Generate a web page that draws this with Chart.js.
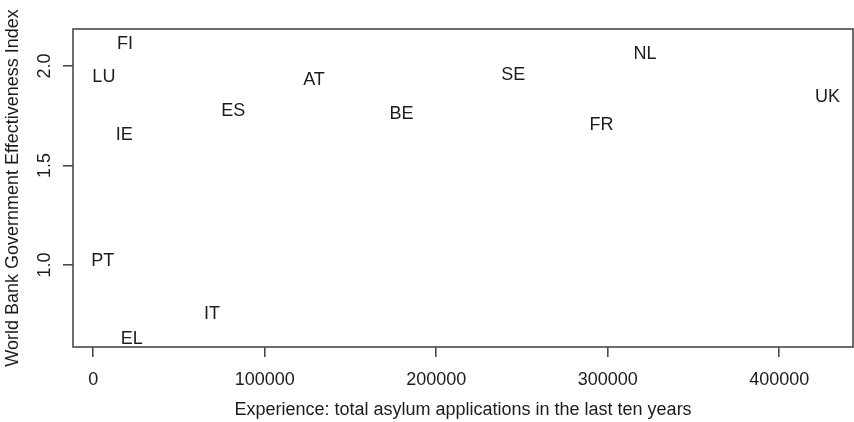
<!DOCTYPE html>
<html>
<head>
<meta charset="utf-8">
<script src="https://cdn.jsdelivr.net/npm/chart.js@4/dist/chart.umd.min.js"></script>
<style>
  html, body { margin: 0; padding: 0; background: #fff; }
  #wrap { width: 854px; height: 422px; position: relative; }
</style>
</head>
<body>
<div id="wrap"><canvas id="c" width="854" height="422"></canvas></div>
<script>
// Data
const countries = ['FI', 'LU', 'AT', 'ES', 'BE', 'IE', 'PT', 'IT', 'EL', 'SE', 'NL', 'UK', 'FR'];
const asylumApplications = [18500, 6200, 128700, 81600, 179800, 18100, 5500, 69200, 22400, 244900, 321700, 428200, 296400];
const govEffectiveness = [2.114, 1.951, 1.935, 1.779, 1.765, 1.657, 1.025, 0.757, 0.635, 1.960, 2.067, 1.849, 1.707];
const xTickValues = [0, 100000, 200000, 300000, 400000];
const yTickValues = [1.0, 1.5, 2.0];
const xTitle = 'Experience: total asylum applications in the last ten years';
const yTitle = 'World Bank Government Effectiveness Index';

const FONT = 'Liberation Sans, Arial, Helvetica, sans-serif';
const TEXT = '#1c1c1c';
const LINE = '#4a4a4a';

const points = countries.map((c, i) => ({ x: asylumApplications[i], y: govEffectiveness[i] }));

const textLabels = {
  id: 'textLabels',
  afterDatasetsDraw(chart) {
    const ctx = chart.ctx;
    const meta = chart.getDatasetMeta(0);
    ctx.save();
    ctx.font = '18px ' + FONT;
    ctx.fillStyle = TEXT;
    ctx.textAlign = 'center';
    ctx.textBaseline = 'middle';
    meta.data.forEach((el, i) => {
      ctx.fillText(countries[i], el.x, el.y + 1);
    });
    ctx.restore();
  }
};

const boxPlugin = {
  id: 'boxPlugin',
  afterDraw(chart) {
    const a = chart.chartArea;
    const ctx = chart.ctx;
    ctx.save();
    ctx.strokeStyle = LINE;
    ctx.lineWidth = 1.6;
    ctx.strokeRect(a.left, a.top, a.right - a.left, a.bottom - a.top);
    ctx.restore();
  }
};

new Chart(document.getElementById('c'), {
  type: 'scatter',
  data: {
    datasets: [{
      data: points,
      pointRadius: 0,
      pointHoverRadius: 0,
      showLine: false
    }]
  },
  options: {
    responsive: false,
    animation: false,
    devicePixelRatio: 1,
    layout: { padding: { top: 29, right: 1, left: 0, bottom: 0 } },
    plugins: { legend: { display: false }, tooltip: { enabled: false } },
    scales: {
      x: {
        type: 'linear',
        min: -11800,
        max: 443000,
        afterBuildTicks(scale) { scale.ticks = xTickValues.map(v => ({ value: v })); },
        afterFit(scale) { scale.height = 75; },
        grid: { drawOnChartArea: false, drawTicks: true, tickLength: 10, tickColor: LINE, lineWidth: 1.6 },
        border: { display: false },
        ticks: {
          color: TEXT, font: { family: FONT, size: 18 }, padding: 12,
          maxRotation: 0, minRotation: 0, autoSkip: false,
          callback: v => String(v)
        },
        title: {
          display: true, text: xTitle, color: TEXT,
          font: { family: FONT, size: 18 }, padding: { top: 0, bottom: 1 }
        }
      },
      y: {
        type: 'linear',
        min: 0.588,
        max: 2.186,
        afterBuildTicks(scale) { scale.ticks = yTickValues.map(v => ({ value: v })); },
        afterFit(scale) { scale.width = 73; },
        grid: { drawOnChartArea: false, drawTicks: true, tickLength: 10, tickColor: LINE, lineWidth: 1.6 },
        border: { display: false },
        ticks: {
          color: TEXT, font: { family: FONT, size: 18 }, padding: 5,
          minRotation: 90, maxRotation: 90, crossAlign: 'center',
          callback: v => v.toFixed(1)
        },
        title: {
          display: true, text: yTitle, color: TEXT,
          font: { family: FONT, size: 18 }, padding: { top: 2, bottom: 0 }
        }
      }
    }
  },
  plugins: [textLabels, boxPlugin]
});
</script>
</body>
</html>
